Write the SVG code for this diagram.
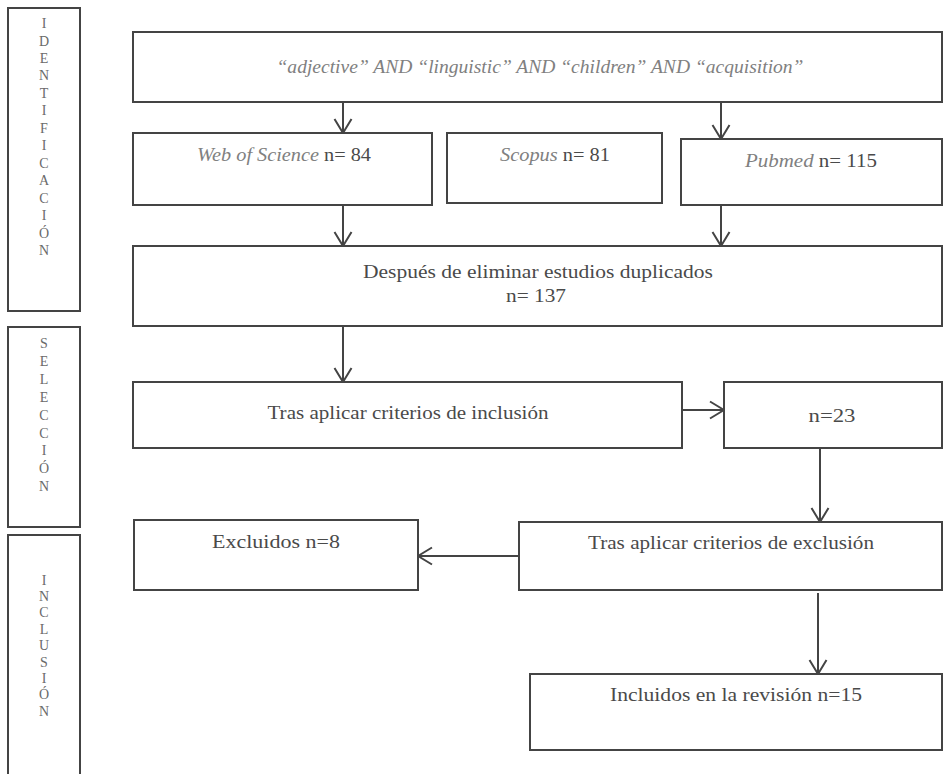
<svg xmlns="http://www.w3.org/2000/svg" width="944" height="774" viewBox="0 0 944 774">
<style>
.box{fill:#fff;stroke:#444;stroke-width:2}
.side{fill:#fff;stroke:#444;stroke-width:2}
.t{font-family:"Liberation Serif",serif;font-size:18px;fill:#4a4a4a;text-anchor:middle}
.i{font-style:italic;fill:#808080}
.lt{font-family:"Liberation Serif",serif;font-size:14px;fill:#6a6a6a;text-anchor:middle}
.ln{fill:none;stroke:#444;stroke-width:2}
</style>
<defs>
<marker id="arr" viewBox="0 0 16 20" refX="15" refY="10" markerWidth="16" markerHeight="20" orient="auto" markerUnits="userSpaceOnUse">
<path d="M1,1.5 L15,10 L1,18.5" fill="none" stroke="#444" stroke-width="2"/>
</marker>
</defs>
<rect width="944" height="774" fill="#fff"/>

<g id="side-identificacion">
<rect class="side" x="8" y="8" width="72" height="303"/>
<text class="lt"><tspan x="44" y="28">I</tspan><tspan x="44" y="45.5">D</tspan><tspan x="44" y="62.9">E</tspan><tspan x="44" y="80.4">N</tspan><tspan x="44" y="97.8">T</tspan><tspan x="44" y="115.3">I</tspan><tspan x="44" y="132.8">F</tspan><tspan x="44" y="150.2">I</tspan><tspan x="44" y="167.7">C</tspan><tspan x="44" y="185.1">A</tspan><tspan x="44" y="202.6">C</tspan><tspan x="44" y="220.1">I</tspan><tspan x="44" y="237.5">Ó</tspan><tspan x="44" y="255">N</tspan></text>
</g>
<g id="side-seleccion">
<rect class="side" x="8" y="327" width="72" height="200"/>
<text class="lt"><tspan x="44" y="348">S</tspan><tspan x="44" y="365.9">E</tspan><tspan x="44" y="383.8">L</tspan><tspan x="44" y="401.7">E</tspan><tspan x="44" y="419.6">C</tspan><tspan x="44" y="437.5">C</tspan><tspan x="44" y="455.4">I</tspan><tspan x="44" y="473.3">Ó</tspan><tspan x="44" y="491.2">N</tspan></text>
</g>
<g id="side-inclusion">
<rect class="side" x="8" y="535" width="72" height="250"/>
<text class="lt"><tspan x="44" y="584.5">I</tspan><tspan x="44" y="600.9">N</tspan><tspan x="44" y="617.3">C</tspan><tspan x="44" y="633.7">L</tspan><tspan x="44" y="650.1">U</tspan><tspan x="44" y="666.5">S</tspan><tspan x="44" y="682.9">I</tspan><tspan x="44" y="699.3">Ó</tspan><tspan x="44" y="715.7">N</tspan></text>
</g>

<g id="connectors">
<line class="ln" x1="343" y1="102" x2="343" y2="133" marker-end="url(#arr)"/>
<line class="ln" x1="721" y1="102" x2="721" y2="139" marker-end="url(#arr)"/>
<line class="ln" x1="343" y1="205" x2="343" y2="246" marker-end="url(#arr)"/>
<line class="ln" x1="721" y1="205" x2="721" y2="246" marker-end="url(#arr)"/>
<line class="ln" x1="343" y1="326" x2="343" y2="382" marker-end="url(#arr)"/>
<line class="ln" x1="682" y1="410" x2="724" y2="410" marker-end="url(#arr)"/>
<line class="ln" x1="820" y1="448" x2="820" y2="522" marker-end="url(#arr)"/>
<line class="ln" x1="519" y1="556" x2="418" y2="556" marker-end="url(#arr)"/>
<line class="ln" x1="818" y1="593" x2="818" y2="674" marker-end="url(#arr)"/>
</g>

<g id="search">
<rect class="box" x="133" y="32" width="809" height="70"/>
<text class="t i" x="540" y="73" textLength="527" lengthAdjust="spacingAndGlyphs">“adjective” AND “linguistic” AND “children” AND “acquisition”</text>
</g>
<g id="wos">
<rect class="box" x="133" y="133" width="299" height="72"/>
<text class="t" x="284" y="161" textLength="174" lengthAdjust="spacingAndGlyphs"><tspan class="i">Web of Science</tspan> n= 84</text>
</g>
<g id="scopus">
<rect class="box" x="447" y="133" width="215" height="70"/>
<text class="t" x="555" y="161" textLength="110" lengthAdjust="spacingAndGlyphs"><tspan class="i">Scopus</tspan> n= 81</text>
</g>
<g id="pubmed">
<rect class="box" x="681" y="139" width="261" height="66"/>
<text class="t" x="811" y="167" textLength="132" lengthAdjust="spacingAndGlyphs"><tspan class="i">Pubmed</tspan> n= 115</text>
</g>
<g id="duplicados">
<rect class="box" x="133" y="246" width="809" height="80"/>
<text class="t" x="538" y="278" textLength="350" lengthAdjust="spacingAndGlyphs">Después de eliminar estudios duplicados</text>
<text class="t" x="536" y="302" textLength="60" lengthAdjust="spacingAndGlyphs">n= 137</text>
</g>
<g id="inclusion">
<rect class="box" x="133" y="382" width="549" height="66"/>
<text class="t" x="408" y="419" textLength="281" lengthAdjust="spacingAndGlyphs">Tras aplicar criterios de inclusión</text>
</g>
<g id="n23">
<rect class="box" x="724" y="382" width="218" height="66"/>
<text class="t" x="832" y="422" textLength="47" lengthAdjust="spacingAndGlyphs">n=23</text>
</g>
<g id="excluidos">
<rect class="box" x="134" y="520" width="284" height="70"/>
<text class="t" x="276" y="548" textLength="128" lengthAdjust="spacingAndGlyphs">Excluidos n=8</text>
</g>
<g id="exclusion">
<rect class="box" x="519" y="522" width="423" height="68"/>
<text class="t" x="731" y="549" textLength="286" lengthAdjust="spacingAndGlyphs">Tras aplicar criterios de exclusión</text>
</g>
<g id="incluidos">
<rect class="box" x="530" y="674" width="412" height="76"/>
<text class="t" x="736" y="701" textLength="252" lengthAdjust="spacingAndGlyphs">Incluidos en la revisión n=15</text>
</g>
</svg>
